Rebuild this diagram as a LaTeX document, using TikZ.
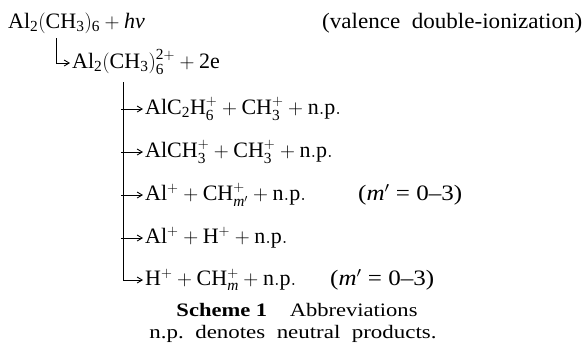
\documentclass[tikz,border=0pt]{standalone}
\usepackage{amsmath}
\usepackage{fontspec}
\setmainfont{Liberation Serif}
\usetikzlibrary{arrows.meta}
\newcommand\fitto[2]{\resizebox{#1pt}{\height}{#2}}
\begin{document}
\begin{tikzpicture}[x=1pt,y=-1pt,
  txt/.style={anchor=base west,inner sep=0pt,font=\fontsize{22}{26}\selectfont},
  captxt/.style={anchor=base,inner sep=0pt,font=\fontsize{19}{23}\selectfont},
  conn/.style={line width=0.9pt,-{Straight Barb[length=5pt,width=6pt]}}]
\useasboundingbox (0,0) rectangle (587,349);
\node[txt] (r0) at (8,28) {$\mathrm{Al_2(CH_3)_6}+{}$\textit{hν}};
\node[txt] (val) at (322,28) {\fitto{260}{(valence\ \ double-ionization)}};
\node[txt] (r1) at (72,68) {$\mathrm{Al_2(CH_3)_6^{2+}+2e}$};
\node[txt] (p1) at (145,114) {$\mathrm{AlC_2H_6^+ + CH_3^+ + n.p.}$};
\node[txt] (p2) at (145,157) {$\mathrm{AlCH_3^+ + CH_3^+ + n.p.}$};
\node[txt] (p3) at (145,200) {$\mathrm{Al^+ + CH_{\textit{m}'}^+ + n.p.}$};
\node[txt] (c3) at (358,200) {\fitto{104}{(\textit{m}$'$ = 0–3)}};
\node[txt] (p4) at (145,243) {$\mathrm{Al^+ + H^+ + n.p.}$};
\node[txt] (p5) at (145,285) {$\mathrm{H^+ + CH_{\textit{m}}^+ + n.p.}$};
\node[txt] (c5) at (330,285) {\fitto{104}{(\textit{m}$'$ = 0–3)}};
\node[captxt] (s1) at (297,316) {\fitto{241}{\textbf{Scheme 1}\quad Abbreviations}};
\node[captxt] (s2) at (293,338) {\fitto{287}{n.p.\ \ denotes\ \ neutral\ \ products.}};
\coordinate (t0) at (56,38);
\coordinate (t1) at (123,82);
\draw[conn] (t0) |- ([shift={(-2,-5)}]r1.base west);
\draw[conn] (t1) |- ([shift={(-2,-5)}]p5.base west);
\foreach \p in {p1,p2,p3,p4}
  \draw[conn] ([shift={(-2,-5)}]\p.base west -| t1) -- ([shift={(-2,-5)}]\p.base west);
\end{tikzpicture}
\end{document}
